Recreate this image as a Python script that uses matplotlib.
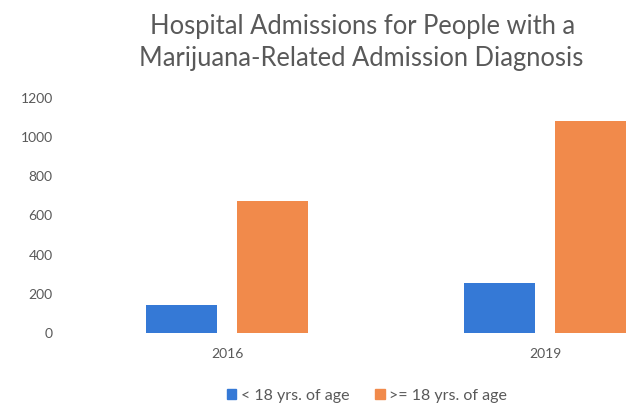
import numpy as np
import matplotlib.pyplot as plt
from matplotlib.patches import Patch

plt.rcParams['font.family'] = ['Lato', 'DejaVu Sans']

years = ['2016', '2019']
under_18 = [145, 255]
over_18 = [675, 1080]
series_labels = ['< 18 yrs. of age', '>= 18 yrs. of age']
blue = '#3579d6'
orange = '#f18a4b'
grey = '#595959'

fig = plt.figure(figsize=(6.33, 4.05), dpi=100)
# plot area runs past the right edge on purpose
ax = fig.add_axes([68 / 633, 72 / 405, 636 / 633, 235 / 405])

x = np.arange(len(years))
w = 0.223
off = 0.1423
ax.bar(x - off, under_18, w, color=blue)
ax.bar(x + off, over_18, w, color=orange)

ax.set_xlim(-0.5, 1.5)
ax.set_ylim(0, 1200)
ax.set_yticks(range(0, 1201, 200))
ax.set_xticks(x)
ax.set_xticklabels(years)
for s in ax.spines.values():
    s.set_visible(False)
ax.tick_params(axis='y', length=0, pad=11, labelsize=10, labelcolor=grey)
ax.tick_params(axis='x', length=0, pad=11, labelsize=10, labelcolor=grey)

fig.text(363 / 633, 1 - 34 / 405, 'Hospital Admissions for People with a',
         ha='center', va='baseline', fontsize=18.4, color=grey)
fig.text(361 / 633, 1 - 66 / 405, 'Marijuana-Related Admission Diagnosis',
         ha='center', va='baseline', fontsize=18.4, color=grey)

handles = [Patch(color=blue, label=series_labels[0]),
           Patch(color=orange, label=series_labels[1])]
fig.legend(handles=handles, loc='center', bbox_to_anchor=(367 / 633, 1 - 396 / 405),
           ncol=2, frameon=False, fontsize=11.5, labelcolor=grey,
           handlelength=0.6, handleheight=0.6, handletextpad=0.3, columnspacing=1.6)

fig.savefig('out.png', dpi=100)
